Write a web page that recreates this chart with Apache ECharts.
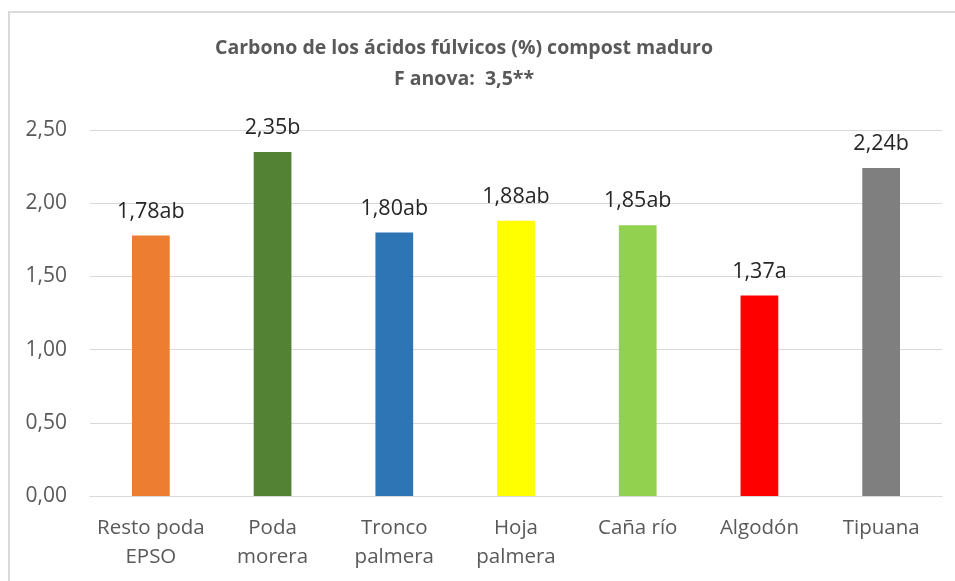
<!DOCTYPE html>
<html>
<head>
<meta charset="utf-8">
<script src="https://cdn.jsdelivr.net/npm/echarts@6/dist/echarts.min.js"></script>
<style>
  html, body { margin: 0; padding: 0; background: #fff; }
  #frame { position: absolute; left: 8px; top: 11px; width: 960px; height: 600px;
           border-left: 2px solid #d9d9d9; border-top: 2px solid #d9d9d9; box-sizing: border-box; }
  #chart { position: absolute; left: 0; top: 0; width: 955px; height: 581px; }
</style>
</head>
<body>
<div id="frame"></div>
<div id="chart"></div>
<script>
// Fulvic acid carbon (%) in mature compost, by raw material
const categories = ['Resto poda\nEPSO', 'Poda\nmorera', 'Tronco\npalmera', 'Hoja\npalmera', 'Caña río', 'Algodón', 'Tipuana'];
const values = [1.78, 2.35, 1.80, 1.88, 1.85, 1.37, 2.24];
const groups = ['ab', 'b', 'ab', 'ab', 'ab', 'a', 'b'];
const barColors = ['#ED7D31', '#548235', '#2E75B6', '#FFFF00', '#92D050', '#FF0000', '#7F7F7F'];
const yTicks = [0, 0.5, 1.0, 1.5, 2.0, 2.5];
const titleLines = ['Carbono de los ácidos fúlvicos (%) compost maduro', 'F anova:  3,5**'];

const fmt = v => v.toFixed(2).replace('.', ',');
const font = '"Open Sans", "Noto Sans", sans-serif';

const chart = echarts.init(document.getElementById('chart'), null, { renderer: 'canvas' });
chart.setOption({
  animation: false,
  textStyle: { fontFamily: font },
  // Two-line heading, centred on the framed chart area
  graphic: [{
    type: 'text',
    x: 464,
    y: 33,
    style: {
      text: titleLines.join('\n'),
      align: 'center',
      verticalAlign: 'top',
      font: 'bold 19.5px ' + font,
      fill: '#595959',
      lineHeight: 31
    }
  }],
  grid: { left: 90, right: 13, top: 130, bottom: 85 },
  xAxis: {
    type: 'category',
    data: categories,
    axisLine: { lineStyle: { color: '#d9d9d9', width: 1 } },
    axisTick: { show: false },
    axisLabel: { color: '#595959', fontSize: 20.5, lineHeight: 29, margin: 18, interval: 0 }
  },
  yAxis: {
    type: 'value',
    min: yTicks[0],
    max: yTicks[yTicks.length - 1],
    interval: 0.5,
    axisLine: { show: false },
    axisTick: { show: false },
    splitLine: { lineStyle: { color: '#d9d9d9', width: 1 } },
    axisLabel: { color: '#595959', fontSize: 21, margin: 23, formatter: v => fmt(v) }
  },
  series: [{
    type: 'bar',
    barWidth: '31%',
    data: values.map((v, i) => ({ value: v, itemStyle: { color: barColors[i] } })),
    label: {
      show: true,
      position: 'top',
      distance: 13,
      color: '#262626',
      fontSize: 21.5,
      formatter: p => fmt(p.value) + groups[p.dataIndex]
    }
  }]
});
</script>
</body>
</html>
